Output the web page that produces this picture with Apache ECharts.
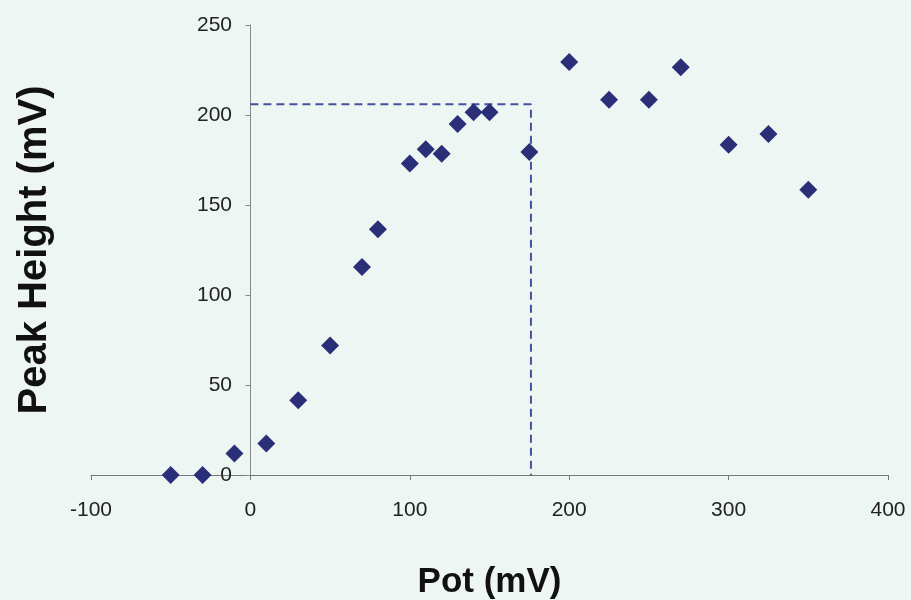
<!DOCTYPE html>
<html>
<head>
<meta charset="utf-8">
<script src="https://cdn.jsdelivr.net/npm/echarts@6/dist/echarts.min.js"></script>
<style>
html, body { margin: 0; padding: 0; background: #eef6f3; }
#chart { width: 911px; height: 600px; }
</style>
</head>
<body>
<div id="chart"></div>
<script>
// measured points: pot (mV) vs peak height (mV)
var potValues = [-50, -30, -10, 10, 30, 50, 70, 80, 100, 110, 120, 130, 140, 150, 175,
                 200, 225, 250, 270, 300, 325, 350];
var peakValues = [0, 0, 12, 17.5, 41.5, 72, 115.5, 136.5, 173, 181, 178.5, 195, 201.5, 201.5, 179.5,
                  229.5, 208.5, 208.5, 226.5, 183.5, 189.5, 158.5];
// dashed guide line
var guideX = [0, 176, 176];
var guideY = [206, 206, 0];

var myChart = echarts.init(document.getElementById('chart'));

var points = potValues.map(function (x, i) { return [x, peakValues[i]]; });
var guide = guideX.map(function (x, i) { return [x, guideY[i]]; });

var option = {
    animation: false,
    backgroundColor: '#eef6f3',
    grid: { left: 91, right: 23, top: 25, bottom: 125, outerBoundsMode: 'none', containLabel: false },
    xAxis: {
        type: 'value',
        min: -100,
        max: 400,
        interval: 100,
        name: 'Pot (mV)',
        nameLocation: 'middle',
        nameGap: 90,
        nameTextStyle: { fontFamily: 'Liberation Sans', fontWeight: 'bold', fontSize: 35, color: '#111' },
        axisLine: { onZero: true, lineStyle: { color: '#777', width: 1 } },
        axisTick: { show: true, inside: false, length: 5, lineStyle: { color: '#777' } },
        axisLabel: { margin: 25, fontFamily: 'Liberation Sans', fontSize: 21, color: '#222' },
        splitLine: { show: false }
    },
    yAxis: {
        type: 'value',
        min: 0,
        max: 250,
        interval: 50,
        name: 'Peak Height (mV)',
        nameLocation: 'middle',
        nameGap: 36,
        nameTextStyle: { fontFamily: 'Liberation Sans', fontWeight: 'bold', fontSize: 40, color: '#111' },
        axisLine: { show: true, onZero: true, lineStyle: { color: '#888', width: 1 } },
        axisTick: { show: true, inside: false, length: 5, lineStyle: { color: '#888' } },
        // labels sit by the grid edge, push them over to the y axis at x = 0
        axisLabel: { margin: -141, fontFamily: 'Liberation Sans', fontSize: 21, color: '#222' },
        splitLine: { show: false }
    },
    series: [
        {
            type: 'line',
            data: guide,
            symbol: 'none',
            lineStyle: { color: '#4550a0', width: 2, type: [8, 5] },
            z: 1
        },
        {
            type: 'scatter',
            data: points,
            symbol: 'diamond',
            symbolSize: 18,
            itemStyle: { color: '#2b2f78', opacity: 1 },
            z: 2
        }
    ]
};

myChart.setOption(option);
window.addEventListener('resize', function () { myChart.resize(); });
</script>
</body>
</html>
